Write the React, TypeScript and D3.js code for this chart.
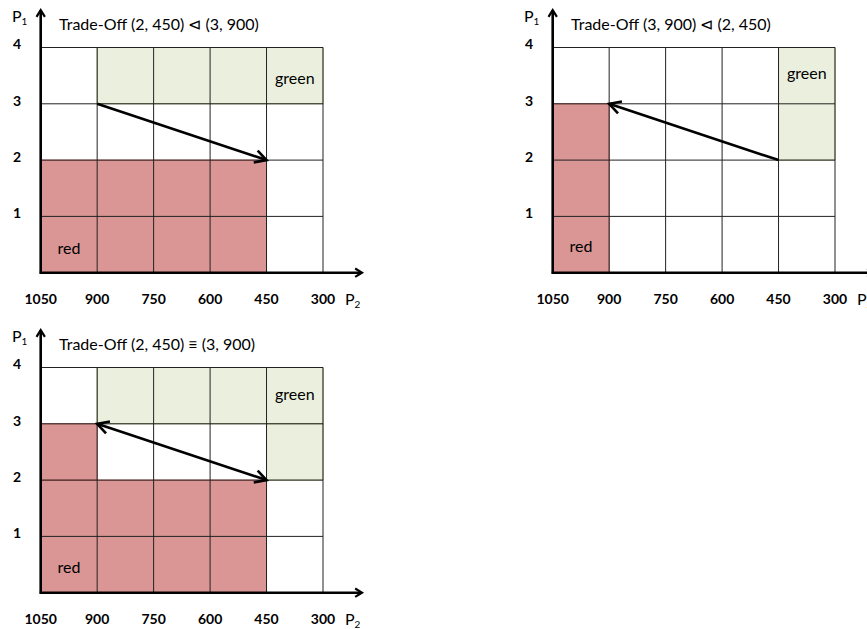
import React from "react";
import * as d3 from "d3";

const xTicks = [1050, 900, 750, 600, 450, 300];
const yTicks = [1, 2, 3, 4];
const yLevels = [0, 1, 2, 3, 4];

const titles = [
  "Trade-Off (2, 450) \u22B2 (3, 900)",
  "Trade-Off (3, 900) \u22B2 (2, 450)",
  "Trade-Off (2, 450) \u2261 (3, 900)",
];

// regions: [p2From, p2To, p1From, p1To]
const redRegions = [
  [[1050, 450, 0, 2]],
  [[1050, 900, 0, 3]],
  [[1050, 450, 0, 2], [1050, 900, 2, 3]],
];
const greenRegions = [
  [[900, 300, 3, 4]],
  [[450, 300, 2, 4]],
  [[900, 300, 3, 4], [450, 300, 2, 3]],
];
const redLabelPos = [[975, 0.43], [975, 0.46], [975, 0.45]];
const greenLabelPos = [[375, 3.46], [375, 3.54], [375, 3.52]];

const arrowFrom = [[900, 3], [450, 2], [900, 3]];
const arrowTo = [[450, 2], [900, 3], [450, 2]];
const arrowBoth = [false, false, true];

const panelOffsets = [[0, 0], [512, 0], [0, 320]];

const RED = "#D99694";
const GREEN = "#EBF0DE";
const FONT = "Lato, 'Open Sans', sans-serif";

function chevron(tip: number[], from: number[], len = 12, ang = 0.5) {
  const dx = from[0] - tip[0];
  const dy = from[1] - tip[1];
  const a = Math.atan2(dy, dx);
  const p1 = [tip[0] + len * Math.cos(a + ang), tip[1] + len * Math.sin(a + ang)];
  const p2 = [tip[0] + len * Math.cos(a - ang), tip[1] + len * Math.sin(a - ang)];
  return `M${p1[0]},${p1[1]}L${tip[0]},${tip[1]}L${p2[0]},${p2[1]}`;
}

function Panel({ idx }: { idx: number }) {
  const [ox, oy] = panelOffsets[idx];
  const x = d3.scaleLinear().domain([1050, 300]).range([40.7, 323]);
  const y = d3.scaleLinear().domain([0, 4]).range([272.7, 47.5]);
  const from = [x(arrowFrom[idx][0]), y(arrowFrom[idx][1])];
  const to = [x(arrowTo[idx][0]), y(arrowTo[idx][1])];
  const x0 = x(1050);
  const yb = y(0);
  return (
    <g transform={`translate(${ox},${oy})`}>
      {redRegions[idx].map((r, i) => (
        <rect key={"r" + i} x={x(r[0])} y={y(r[3])} width={x(r[1]) - x(r[0])} height={y(r[2]) - y(r[3])} fill={RED} stroke="#C0504D" strokeWidth={0.8} />
      ))}
      {greenRegions[idx].map((r, i) => (
        <rect key={"g" + i} x={x(r[0])} y={y(r[3])} width={x(r[1]) - x(r[0])} height={y(r[2]) - y(r[3])} fill={GREEN} stroke="#8FA35A" strokeWidth={0.8} />
      ))}
      {xTicks.map((t) => (
        <line key={"vx" + t} x1={x(t)} x2={x(t)} y1={y(0)} y2={y(4)} stroke="#222" strokeWidth={1} />
      ))}
      {yLevels.map((t) => (
        <line key={"hy" + t} x1={x(1050)} x2={x(300)} y1={y(t)} y2={y(t)} stroke="#222" strokeWidth={1} />
      ))}
      {/* axes */}
      <line x1={x0} x2={x0} y1={yb + 1} y2={10} stroke="#000" strokeWidth={2.6} />
      <path d={chevron([x0, 10], [x0, 40], 8, 0.55)} fill="none" stroke="#000" strokeWidth={2.2} />
      <line x1={x0 - 1} x2={361} y1={yb} y2={yb} stroke="#000" strokeWidth={2.6} />
      <path d={chevron([362, yb], [330, yb], 8, 0.55)} fill="none" stroke="#000" strokeWidth={2.2} />
      {/* trade-off arrow */}
      <line x1={from[0]} y1={from[1]} x2={to[0]} y2={to[1]} stroke="#000" strokeWidth={2.6} />
      <path d={chevron(to, from, 13, 0.5)} fill="none" stroke="#000" strokeWidth={2.6} />
      {arrowBoth[idx] && <path d={chevron(from, to, 13, 0.5)} fill="none" stroke="#000" strokeWidth={2.6} />}
      {/* tick labels */}
      {yTicks.map((t) => (
        <text key={"yl" + t} x={17} y={y(t) - 3} dy="0.35em" textAnchor="middle" fontFamily={FONT} fontWeight="bold" fontSize={14}>{t}</text>
      ))}
      {xTicks.map((t) => (
        <text key={"xl" + t} x={x(t)} y={299} dy="0.35em" textAnchor="middle" fontFamily={FONT} fontWeight="bold" fontSize={14}>{t}</text>
      ))}
      {/* axis names */}
      <text x={12} y={22} fontFamily={FONT} fontSize={16}>P<tspan fontSize={10} dy={3}>1</tspan></text>
      <text x={345} y={305} fontFamily={FONT} fontSize={16}>P<tspan fontSize={10} dy={3}>2</tspan></text>
      {/* title */}
      <text x={59} y={29.5} fontFamily={FONT} fontSize={16}>{titles[idx]}</text>
      {/* region labels */}
      <text x={x(greenLabelPos[idx][0])} y={y(greenLabelPos[idx][1])} dy="0.35em" textAnchor="middle" fontFamily={FONT} fontSize={16}>green</text>
      <text x={x(redLabelPos[idx][0])} y={y(redLabelPos[idx][1])} dy="0.35em" textAnchor="middle" fontFamily={FONT} fontSize={16}>red</text>
    </g>
  );
}

export default function App() {
  return (
    <svg width={867} height={629} style={{ position: "absolute", left: 0, top: 0, background: "#fff" }}>
      <rect width={867} height={629} fill="#fff" />
      {[0, 1, 2].map((i) => (
        <Panel key={i} idx={i} />
      ))}
    </svg>
  );
}
